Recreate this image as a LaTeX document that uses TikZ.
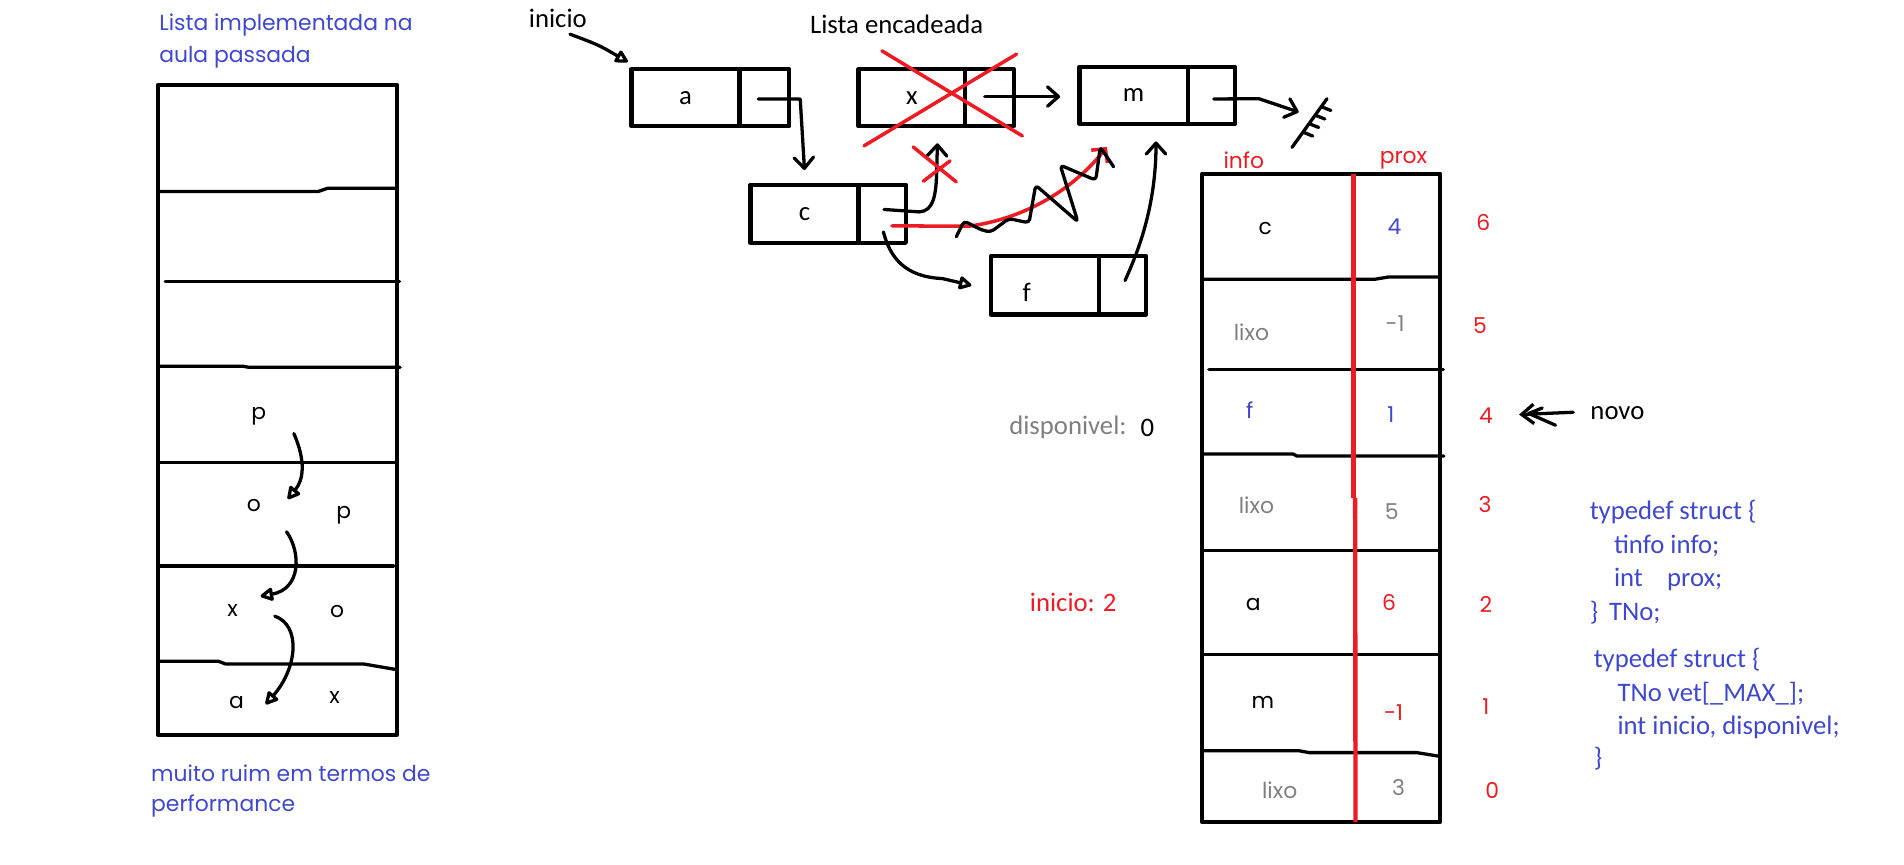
\documentclass[tikz,border=0pt]{standalone}
\usepackage{fontspec}
\setmainfont{Carlito}
\newfontfamily\gothic{Poppins}
\usetikzlibrary{arrows.meta}
\definecolor{pblue}{HTML}{3F48CC}
\definecolor{pred}{HTML}{ED1C24}
\definecolor{pgray}{HTML}{7F7F7F}
\begin{document}
\begin{tikzpicture}[x=1pt,y=-1pt,line cap=round,line join=round,
  cal/.style={font=\fontsize{22}{26}\selectfont,inner sep=0pt},
  got/.style={font=\gothic\fontsize{18}{22}\selectfont,inner sep=0pt},
  cell/.style={draw,line width=3.4pt,inner sep=0pt,outer sep=0pt,minimum height=47pt,font=\fontsize{22}{26}\selectfont},
  frame/.style={draw,line width=3.4pt,inner sep=0pt,outer sep=0pt},
  wire/.style={line width=2.7pt},
  redwire/.style={line width=2.9pt,draw=pred},
  vtip/.style={-{Straight Barb[length=9pt,width=16pt,round]}},
  ttip/.style={-{Triangle[open,length=12pt,width=12pt,round]}}]
\useasboundingbox (0,0) rectangle (1568,712);

% ---------------- left column ----------------
\node[got,text=pblue,anchor=west] (t1) at (131,21) {Lista implementada na};
\node[got,text=pblue,anchor=west] (t2) at (131,47) {aula passada};
\node[frame,minimum width=197pt,minimum height=535pt] (col) at (228.5,337.5) {};
\draw[wire] (131,157.7) -- (262,157.7) -- (270,155) -- (327,155);
\draw[wire] (136,232) -- (329,232);
\draw[wire] (131,301.6) -- (200,301.6) -- (205,302.5) -- (329.5,302.5);
\draw[wire] (131,381) -- (327,381);
\draw[wire] (131,466) -- (324,466);
\draw[wire] (131,544.6) -- (180,544.6) -- (186,546.9) -- (300,546.9) -- (327,551.5);
\node[got] (lp1) at (213,342.5) {p};
\node[got] (lo1) at (209,416.6) {o};
\node[got] (lp2) at (283,424.3) {p};
\node[got] (lx1) at (191.6,503) {x};
\node[got] (lo2) at (277.7,503.8) {o};
\node[got] (la1) at (194.8,578.7) {a};
\node[got] (lx2) at (275.6,574.2) {x};
\draw[wire,ttip] ([xshift=29pt,yshift=-14.5pt]lp1.center) .. controls (252,380) and (250,395) .. ([xshift=28pt,yshift=5.6pt]lo1.center);
\draw[wire,ttip] ([xshift=27pt,yshift=-21.3pt]lo1.center) .. controls (248,455) and (248,485) .. ([xshift=23pt,yshift=12pt]lx1.center);
\draw[wire,ttip] ([xshift=34.7pt,yshift=-4.4pt]lx1.center) .. controls (248,515) and (245,550) .. ([xshift=24pt,yshift=-1.3pt]la1.center);
\node[got,text=pblue,anchor=west] (t3) at (124.3,636.8) {muito ruim em termos de};
\node[got,text=pblue,anchor=west] (t4) at (124.3,663.6) {performance};

% ---------------- linked list ----------------
\node[cal] (lblIni) at (459.4,15.3) {inicio};
\node[cal] (lblLista) at (738.4,19.9) {Lista encadeada};
\node[cell,minimum width=89pt] (aI) at (564.5,80.5) {a};
\node[cell,minimum width=41pt] (aP) at (629.5,80.5) {};
\node[cell,minimum width=88pt] (xI) at (751,80.5) {x};
\node[cell,minimum width=40pt] (xP) at (815,80.5) {};
\node[cell,minimum width=89pt] (mI) at (933.5,78.5) {m};
\node[cell,minimum width=39pt] (mP) at (997.5,78.5) {};
\node[cell,minimum width=89pt,minimum height=48pt] (cI) at (662.5,176) {c};
\node[cell,minimum width=39pt,minimum height=48pt] (cP) at (726.5,176) {};
\node[cell,minimum width=89pt,minimum height=48pt] (fI) at (860.5,235) {};
\node[cell,minimum width=39pt,minimum height=48pt] (fP) at (924.5,235) {};
\node[cal] (fL) at (845.5,240.4) {f};
\coordinate (nil) at (1069.5,92.3);

\draw[wire,ttip] ([xshift=10pt,yshift=-5pt]lblIni.south) .. controls (493,37) .. ([xshift=-3pt,yshift=6pt]aI.north west);
\draw[wire,vtip] ([xshift=-5pt,yshift=-1pt]aP.center) -- ([xshift=9pt,yshift=-1pt]aP.east) .. controls (661,110) .. ([yshift=12pt]cI.north);
\draw[wire,vtip] ([xshift=-4pt,yshift=1pt]xP.center) -- ([xshift=-16pt,yshift=-1pt]mI.west);
\draw[wire,vtip] ([xshift=2pt,yshift=-3pt]mP.center) -- (1036.7,81.3) -- (nil);
% ground
\draw[wire] (1064,121.4) -- (1092.8,81.3);
\draw[wire] (1088.5,88) -- (1096,91);
\draw[wire] (1083.5,95) -- (1091,98);
\draw[wire] (1078.5,102) -- (1086,105);
\draw[wire] (1073.5,109) -- (1081,112);
% c -> x (crossed)
\draw[wire,vtip] ([xshift=1.5pt,yshift=3.5pt]cP.center) -- (757,174.5) .. controls (769,174) and (771,160) .. (771.4,140) -- ([xshift=21pt,yshift=-14pt]xI.south);
% c -> f
\draw[wire,ttip] ([xshift=1pt,yshift=-15pt]cP.center) .. controls (733,212) and (745,228) .. (776,229.4) -- ([xshift=-16pt]fI.west);
% f -> m
\draw[wire,vtip] ([xshift=2pt,yshift=4pt]fP.center) .. controls (934,214) and (952,175) .. ([xshift=18.5pt,yshift=-14.5pt]mI.south);
% red c -> m
\draw[redwire,-{Straight Barb[length=8pt,width=17pt]}] ([xshift=8pt,yshift=-10pt]cP.center) -- (797.8,186.3) .. controls (845,180) and (885,155) .. ([xshift=-22pt,yshift=-19pt]mI.south);
% black scribble
\draw[wire,rounded corners=3pt] (787.5,195) -- (794,182) -- (808.8,189.6) -- (816,191) -- (830.8,180) -- (847.4,183.5) -- (852.9,152.5) -- (887.7,182.7) -- (873.1,136) -- (902.4,148.4) -- (906.1,121) -- (917.1,137.4);
% red crosses
\draw[redwire] (726.3,41.9) -- (841.9,111.9);
\draw[redwire] (837.1,44.6) -- (711.6,120.1);
\draw[redwire] (752,121) -- (787.5,149.8);
\draw[redwire] (782.4,132.5) -- (760.4,149.2);

% ---------------- table ----------------
\node[got,text=pred] (hInfo) at (1024.3,131.6) {info};
\node[got,text=pred] (hProx) at (1155.8,131.6) {prox};
\node[frame,minimum width=196pt,minimum height=534pt] (tbl) at (1088,410) {};
\draw[wire] (990,230) -- (1132,230) -- (1143,228.2) -- (1186,228.2);
\draw[wire] (995.5,304) -- (1188.6,304);
\draw[wire] (990,373.9) -- (1065,373.9) -- (1068,375.6) -- (1189,375.6);
\draw[wire] (990,453.5) -- (1186,453.5);
\draw[wire] (990,538.7) -- (1184,538.7);
\draw[wire] (990,618.3) -- (1070,618.3) -- (1078,619.8) -- (1166.7,619.8) -- (1186,622.9);
\draw[line width=3.6pt,draw=pred,line cap=butt] (1114.7,143) -- (1114.7,410);
\draw[line width=3.6pt,draw=pred,line cap=butt] (1116,410) -- (1116.3,677);

\node[got] (r0a) at (1042,188.4) {c};
\node[got,text=pblue] (r0b) at (1148.4,186.5) {4};
\node[got,text=pred] (r0c) at (1221.5,182.8) {6};
\node[got,text=pgray] (r1a) at (1030.6,273.7) {lixo};
\node[got,text=pgray] (r1b) at (1148.9,266.1) {-1};
\node[got,text=pred] (r1c) at (1218.8,268) {5};
\node[got,text=pblue] (r2a) at (1029.2,338) {f};
\node[got,text=pblue] (r2b) at (1145.4,341.8) {1};
\node[got,text=pred] (r2c) at (1223.7,342.6) {4};
\node[got,text=pgray] (r3a) at (1034.7,415.7) {lixo};
\node[got,text=pgray] (r3b) at (1146.2,421.3) {5};
\node[got,text=pred] (r3c) at (1222.9,415.7) {3};
\node[got] (r4a) at (1032,498.2) {a};
\node[got,text=pred] (r4b) at (1144,496.3) {6};
\node[got,text=pred] (r4c) at (1223.7,497.8) {2};
\node[got] (r5a) at (1040,578.5) {m};
\node[got,text=pred] (r5b) at (1147.6,587.2) {-1};
\node[got,text=pred] (r5c) at (1223.7,582.3) {1};
\node[got,text=pgray] (r6a) at (1053.8,651.2) {lixo};
\node[got,text=pgray] (r6b) at (1151.7,648.6) {3};
\node[got,text=pred] (r6c) at (1228.9,651.2) {0};

\node[cal,text=pgray,anchor=west] (disp) at (831,352) {disponivel:};
\node[cal] (dispV) at (945,352) {0};
\node[cal,text=pred,anchor=west] (ini) at (848,496) {inicio: 2};

% novo
\node[cal,anchor=west] (novo) at (1309.6,340) {novo};
\draw[wire,-{Straight Barb[length=10pt,width=16pt]}] ([xshift=-14pt,yshift=0.5pt]novo.west) -- (1251,341.4);
\draw[wire] (1270,336) -- (1259,340.5) -- (1281,350.2);

% code
\node[cal,text=pblue,anchor=west] (c1) at (1309,422) {typedef struct \{};
\node[cal,text=pblue,anchor=west] (c2) at (1329,449.6) {tinfo info;};
\node[cal,text=pblue,anchor=west] (c3) at (1329,477.2) {int\hspace{20pt}prox;};
\node[cal,text=pblue,anchor=west] (c4) at (1309,504.8) {\}\hspace{9pt}TNo;};
\node[cal,text=pblue,anchor=west] (c5) at (1312.3,543.4) {typedef struct \{};
\node[cal,text=pblue,anchor=west] (c6) at (1331.9,571) {TNo vet[\_MAX\_];};
\node[cal,text=pblue,anchor=west] (c7) at (1331.9,598.6) {int inicio, disponivel;};
\node[cal,text=pblue,anchor=west] (c8) at (1312.3,624.9) {\}};
\end{tikzpicture}
\end{document}
